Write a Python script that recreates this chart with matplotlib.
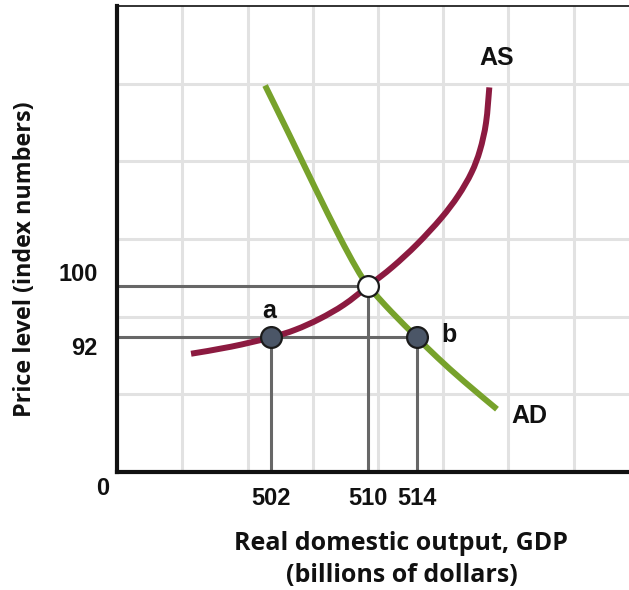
import numpy as np
import matplotlib
matplotlib.use("Agg")
import matplotlib.pyplot as plt
from matplotlib.path import Path
from matplotlib.patches import PathPatch

# Equilibrium and the two off-equilibrium points
gdp_levels = [502, 510, 514]      # a, equilibrium, b
price_levels = [92, 100]          # price at a/b, equilibrium price

# Aggregate supply curve (GDP, price level)
as_gdp = [495.4, 498.7, 502.0, 504.0, 506.0, 508.0, 510.0, 512.0, 514.0, 516.0, 517.4, 518.5, 519.2, 519.7, 519.97]
as_price = [89.45, 90.55, 92.0, 93.2, 94.9, 97.1, 100.0, 103.0, 106.5, 110.6, 114.1, 117.7, 121.2, 125.5, 131.0]

# Aggregate demand curve (GDP, price level)
ad_gdp = [501.5, 503.5, 505.6, 507.6, 509.0, 510.0, 511.9, 514.0, 515.7, 517.9, 520.6]
ad_price = [131.3, 123.6, 115.4, 107.8, 102.9, 100.0, 96.0, 92.0, 88.85, 85.1, 80.8]

x_limits = (489.3, 532.3)
y_limits = (71.0, 143.7)

AS_COLOR = "#8c1a40"
AD_COLOR = "#77a22b"
GUIDE = "#676767"
GRID = "#e2e2e2"
NUM_FONT = ["Liberation Sans", "DejaVu Sans"]
TITLE_FONT = ["Open Sans", "DejaVu Sans"]


def smooth_curve(xs, ys, **kw):
    """Cubic Bezier path running through every given point (Catmull-Rom tangents)."""
    pts = np.column_stack([xs, ys]).astype(float)
    ext = np.vstack([pts[0], pts, pts[-1]])
    verts = [pts[0]]
    codes = [Path.MOVETO]
    for i in range(len(pts) - 1):
        p0, p1, p2, p3 = ext[i], ext[i + 1], ext[i + 2], ext[i + 3]
        verts += [p1 + (p2 - p0) / 6.0, p2 - (p3 - p1) / 6.0, p2]
        codes += [Path.CURVE4] * 3
    return PathPatch(Path(verts, codes), fill=False, **kw)


fig = plt.figure(figsize=(6.29, 5.90), dpi=100)
ax = fig.add_axes([117 / 629, 118 / 590, 522 / 629, 466 / 590])
ax.set_xlim(*x_limits)
ax.set_ylim(*y_limits)

# light square grid
for gx in np.linspace(*x_limits, 9)[1:-1]:
    ax.axvline(gx, color=GRID, lw=2.2, zorder=0)
for gy in np.linspace(*y_limits, 7)[1:-1]:
    ax.axhline(gy, color=GRID, lw=2.2, zorder=0)

ax.set_xticks([])
ax.set_yticks([])
for side in ("left", "bottom"):
    ax.spines[side].set_linewidth(3.0)
    ax.spines[side].set_color("#111111")
    ax.spines[side].set_zorder(6)
ax.spines["top"].set_linewidth(1.3)
ax.spines["top"].set_color("#222222")
ax.spines["right"].set_visible(False)

a_x, e_x, b_x = gdp_levels
p_low, p_eq = price_levels
x0, y0 = x_limits[0], y_limits[0]

# guide lines to the axes
guide_kw = dict(color=GUIDE, lw=2.2, zorder=2, solid_capstyle="butt")
ax.plot([x0, e_x], [p_eq, p_eq], **guide_kw)
ax.plot([x0, b_x], [p_low, p_low], **guide_kw)
for gx, gy in ((a_x, p_low), (e_x, p_eq), (b_x, p_low)):
    ax.plot([gx, gx], [gy, y0], **guide_kw)

# curves
ax.add_patch(smooth_curve(as_gdp, as_price, edgecolor=AS_COLOR, lw=4.3, capstyle="butt", zorder=3))
ax.add_patch(smooth_curve(ad_gdp, ad_price, edgecolor=AD_COLOR, lw=4.3, capstyle="butt", zorder=3))

# points
ax.plot([a_x, b_x], [p_low, p_low], "o", ms=15, mfc="#4b5667", mec="#1b1b1b", mew=1.6, zorder=5)
ax.plot([e_x], [p_eq], "o", ms=15, mfc="white", mec="#1b1b1b", mew=1.6, zorder=5)

num_kw = dict(fontfamily=NUM_FONT, fontweight="bold", color="#111111")

ax.annotate("a", xy=(a_x, p_low), xytext=(-1.5, 19), textcoords="offset points",
            ha="center", va="center", fontsize=18, **num_kw)
ax.annotate("b", xy=(b_x, p_low), xytext=(23, 1.5), textcoords="offset points",
            ha="center", va="center", fontsize=18, **num_kw)
ax.annotate("AS", xy=(as_gdp[-1], as_price[-1]), xytext=(5, 21), textcoords="offset points",
            ha="center", va="center", fontsize=18, **num_kw)
ax.annotate("AD", xy=(ad_gdp[-1], ad_price[-1]), xytext=(23, -5), textcoords="offset points",
            ha="center", va="center", fontsize=18, **num_kw)

# axis value labels
for gx in gdp_levels:
    ax.annotate(str(gx), xy=(gx, y0), xytext=(0, -19), textcoords="offset points",
                ha="center", va="center", fontsize=17, annotation_clip=False, **num_kw)
ax.annotate(str(p_eq), xy=(x0, p_eq), xytext=(-14, 8.6), textcoords="offset points",
            ha="right", va="center", fontsize=17, annotation_clip=False, **num_kw)
ax.annotate(str(p_low), xy=(x0, p_low), xytext=(-14, -7.9), textcoords="offset points",
            ha="right", va="center", fontsize=17, annotation_clip=False, **num_kw)
ax.annotate("0", xy=(x0, y0), xytext=(-10, -12), textcoords="offset points",
            ha="center", va="center", fontsize=17, annotation_clip=False, **num_kw)

# axis titles
title_kw = dict(fontfamily=TITLE_FONT, fontweight="bold", color="#111111",
                ha="center", va="center")
fig.text(401 / 629, 1 - 544 / 590, "Real domestic output, GDP", fontsize=18, **title_kw)
fig.text(402 / 629, 1 - 575 / 590, "(billions of dollars)", fontsize=18, **title_kw)
fig.text(25 / 629, 1 - 259 / 590, "Price level (index numbers)", rotation=90, fontsize=16.8, **title_kw)

fig.savefig("out.png", dpi=100, facecolor="white")
